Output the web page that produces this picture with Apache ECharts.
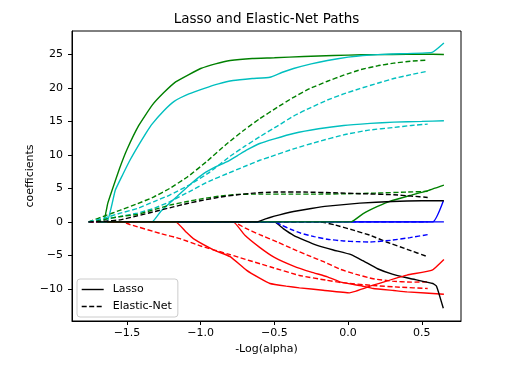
<!DOCTYPE html>
<html><head><meta charset="utf-8">
<script src="https://cdn.jsdelivr.net/npm/echarts@6/dist/echarts.min.js"></script>
<style>html,body{margin:0;padding:0;background:#fff}#c{width:519px;height:373px}</style>
</head><body><div id="c"></div>
<script>
const xTicks = [-1.5, -1.0, -0.5, 0.0, 0.5];
const yTicks = [-10, -5, 0, 5, 10, 15, 20, 25];

// Lasso paths [-log10(alpha), coefficient]
const lassoAge = [[-1.70,0],[0.65,0]];
const lassoSex = [[-1.70,0],[-0.78,0],[-0.70,-2.0],[-0.60,-3.8],[-0.50,-5.3],[-0.37,-6.6],[-0.25,-7.5],[-0.14,-8.2],[-0.05,-9.0],[0.08,-9.5],[0.17,-9.95],[0.31,-10.25],[0.40,-10.45],[0.65,-10.8]];
const lassoBmi = [[-1.70,0],[-1.66,0],[-1.63,2.8],[-1.60,4.8],[-1.55,8.0],[-1.50,10.8],[-1.42,14.4],[-1.33,17.4],[-1.25,19.3],[-1.17,20.9],[-1.08,22.0],[-1.00,22.9],[-0.90,23.6],[-0.80,24.1],[-0.65,24.4],[-0.50,24.5],[-0.30,24.7],[-0.10,24.85],[0.10,24.95],[0.30,25.0],[0.50,25.05],[0.65,25.0]];
const lassoBp = [[-1.70,0],[-1.33,0],[-1.27,1.6],[-1.16,3.8],[-1.06,5.8],[-0.98,7.2],[-0.90,8.2],[-0.82,9.0],[-0.75,9.9],[-0.69,10.7],[-0.60,11.7],[-0.50,12.4],[-0.37,13.2],[-0.20,13.9],[-0.03,14.4],[0.15,14.7],[0.31,14.9],[0.50,15.0],[0.65,15.1]];
const lassoS1 = [[-1.70,0],[-0.50,0],[-0.44,-1.0],[-0.37,-2.0],[-0.29,-2.8],[-0.21,-3.5],[-0.10,-4.2],[0.02,-4.9],[0.10,-5.8],[0.20,-7.0],[0.30,-7.8],[0.42,-8.45],[0.575,-9.2],[0.60,-9.6],[0.646,-12.9]];
const lassoS2 = [[-1.70,0],[0.575,0],[0.646,3.1]];
const lassoS3 = [[-1.70,0],[-1.17,0],[-1.10,-1.5],[-1.05,-2.5],[-0.91,-4.2],[-0.80,-5.2],[-0.69,-7.2],[-0.60,-8.4],[-0.53,-9.2],[-0.42,-9.6],[-0.33,-9.85],[-0.17,-10.2],[0.01,-10.6],[0.17,-9.45],[0.40,-7.95],[0.57,-7.2],[0.65,-5.6]];
const lassoS4 = [[-1.70,0],[0.02,0],[0.10,1.2],[0.20,2.3],[0.30,3.2],[0.42,3.95],[0.53,4.6],[0.65,5.5]];
const lassoS5 = [[-1.70,0],[-1.636,0],[-1.60,2.8],[-1.58,4.7],[-1.53,7.0],[-1.48,9.2],[-1.42,11.5],[-1.37,13.3],[-1.33,14.6],[-1.25,16.6],[-1.18,18.0],[-1.08,19.1],[-0.98,19.9],[-0.88,20.6],[-0.78,21.1],[-0.65,21.4],[-0.53,21.6],[-0.45,22.3],[-0.37,22.9],[-0.25,23.6],[-0.14,24.1],[0.0,24.6],[0.10,24.85],[0.30,25.07],[0.57,25.3],[0.65,26.7]];
const lassoS6 = [[-1.70,0],[-0.62,0],[-0.56,0.45],[-0.50,0.85],[-0.43,1.25],[-0.37,1.55],[-0.25,2.0],[-0.14,2.35],[0.08,2.8],[0.30,3.05],[0.50,3.15],[0.65,3.15]];

// Elastic-Net paths
const enetAge = [[-1.76,0],[0.54,0]];
const enetSex = [[-1.76,0],[-0.78,0],[-0.70,-0.9],[-0.60,-1.9],[-0.48,-3.0],[-0.39,-3.9],[-0.25,-5.2],[-0.17,-5.9],[-0.05,-7.1],[0.05,-7.8],[0.17,-8.5],[0.30,-8.85],[0.43,-9.0],[0.54,-8.95]];
const enetBmi = [[-1.76,0],[-1.65,0.9],[-1.545,1.75],[-1.43,2.7],[-1.32,3.7],[-1.21,5.0],[-1.09,6.7],[-0.96,9.0],[-0.82,11.7],[-0.70,13.8],[-0.60,15.4],[-0.48,17.1],[-0.37,18.6],[-0.26,19.9],[-0.14,21.0],[-0.03,21.9],[0.08,22.7],[0.20,23.3],[0.31,23.7],[0.43,24.0],[0.54,24.15]];
const enetBp = [[-1.76,0],[-1.65,0.4],[-1.545,0.8],[-1.43,1.3],[-1.32,2.0],[-1.21,3.0],[-1.07,4.6],[-0.94,6.1],[-0.82,7.2],[-0.71,8.2],[-0.60,9.2],[-0.53,9.7],[-0.37,10.9],[-0.20,12.0],[-0.03,13.0],[0.14,13.7],[0.31,14.1],[0.43,14.4],[0.54,14.6]];
const enetS1 = [[-1.76,0],[-0.19,0],[-0.09,-0.45],[0.03,-1.2],[0.15,-2.0],[0.26,-3.0],[0.40,-4.1],[0.54,-5.2]];
const enetS2 = [[-1.76,0],[-0.50,0],[-0.45,-0.5],[-0.39,-1.1],[-0.32,-1.7],[-0.23,-2.2],[-0.14,-2.6],[-0.03,-2.85],[0.06,-2.95],[0.15,-3.0],[0.29,-2.75],[0.42,-2.35],[0.54,-1.9]];
const enetS3 = [[-1.76,0],[-1.53,0],[-1.48,-0.4],[-1.27,-1.75],[-1.14,-2.5],[-1.00,-3.6],[-0.80,-4.9],[-0.53,-6.7],[-0.33,-8.0],[-0.15,-8.7],[-0.05,-9.05],[0.17,-9.5],[0.35,-9.75],[0.54,-9.95]];
const enetS4 = [[-1.76,0],[-1.65,0.4],[-1.545,0.8],[-1.43,1.1],[-1.32,1.8],[-1.21,2.5],[-1.10,3.0],[-0.98,3.5],[-0.87,3.85],[-0.75,4.1],[-0.60,4.15],[-0.40,4.15],[-0.20,4.15],[0.0,4.2],[0.20,4.3],[0.40,4.45],[0.54,4.55]];
const enetS5 = [[-1.76,0],[-1.65,0.6],[-1.545,1.3],[-1.43,2.0],[-1.32,3.0],[-1.21,4.0],[-1.07,5.6],[-0.94,7.4],[-0.80,9.8],[-0.70,11.3],[-0.60,12.7],[-0.48,14.3],[-0.37,15.8],[-0.26,17.0],[-0.14,18.2],[-0.03,19.1],[0.08,19.9],[0.20,20.7],[0.31,21.4],[0.43,22.0],[0.54,22.5]];
const enetS6 = [[-1.76,0],[-1.65,0.1],[-1.545,0.3],[-1.43,0.9],[-1.32,1.5],[-1.21,2.1],[-1.09,2.75],[-0.98,3.25],[-0.87,3.7],[-0.75,4.05],[-0.64,4.3],[-0.50,4.45],[-0.30,4.45],[-0.10,4.35],[0.10,4.2],[0.31,4.05],[0.43,3.85],[0.54,3.65]];

const COL = {b:'#0000ff', r:'#ff0000', g:'#008000', c:'#00bfbf', k:'#000000'};
const DASH = [5, 2.5];
const LW = 1.4;
const paths = [
  [lassoAge,'b',false],[enetAge,'b',true],
  [lassoSex,'r',false],[enetSex,'r',true],
  [lassoBmi,'g',false],[enetBmi,'g',true],
  [lassoBp,'c',false],[enetBp,'c',true],
  [lassoS1,'k',false],[enetS1,'k',true],
  [lassoS2,'b',false],[enetS2,'b',true],
  [lassoS3,'r',false],[enetS3,'r',true],
  [lassoS4,'g',false],[enetS4,'g',true],
  [lassoS5,'c',false],[enetS5,'c',true],
  [lassoS6,'k',false],[enetS6,'k',true]
];

const series = paths.map((p, i) => ({
  type: 'line', name: 'path' + i, data: p[0], symbol: 'none', showSymbol: false,
  silent: true, smooth: 0.12, clip: true,
  itemStyle: {color: COL[p[1]]},
  lineStyle: {color: COL[p[1]], width: LW, type: p[2] ? DASH : 'solid'}
}));
series.push({type:'line', name:'Lasso', data:[], symbol:'none', itemStyle:{color:'#000', opacity:0}, lineStyle:{color:'#000', width:LW, type:'solid', opacity:1}});
series.push({type:'line', name:'Elastic-Net', data:[], symbol:'none', itemStyle:{color:'#000', opacity:0}, lineStyle:{color:'#000', width:LW, type:DASH, opacity:1}});

const FONT = 'DejaVu Sans';
const minus = s => String(s).replace('-', '\u2212');

const chart = echarts.init(document.getElementById('c'), null, {renderer: 'canvas'});
chart.setOption({
  animation: false,
  backgroundColor: '#fff',
  textStyle: {fontFamily: FONT},
  title: {
    text: 'Lasso and Elastic-Net Paths', left: 266.5, top: 12, textAlign: 'center', padding: 0,
    textStyle: {fontFamily: FONT, fontSize: 13.5, fontWeight: 'normal', color: '#000'}
  },
  legend: {
    data: ['Lasso', 'Elastic-Net'], orient: 'vertical', left: 77, top: 279,
    itemWidth: 22, itemHeight: 12, itemGap: 4, padding: [4, 6, 4, 4],
    itemStyle: {opacity: 0},
    lineStyle: {width: LW},
    borderColor: '#cccccc', borderWidth: 1, borderRadius: 3, backgroundColor: 'rgba(255,255,255,0.8)',
    textStyle: {fontFamily: FONT, fontSize: 11, color: '#000', padding: [0, 0, 0, 4], lineHeight: 13},
    selectedMode: false
  },
  grid: {left: 72, right: 58, top: 31, bottom: 52, show: true, borderColor: '#000', borderWidth: 1, backgroundColor: 'transparent'},
  xAxis: {
    type: 'value', min: -1.873, max: 0.766,
    name: '-Log(alpha)', nameLocation: 'middle', nameGap: 21,
    nameTextStyle: {fontFamily: FONT, fontSize: 11, color: '#000'},
    axisLine: {show: true, onZero: false, lineStyle: {color: '#000', width: 1}},
    axisTick: {show: true, inside: false, length: 4, customValues: xTicks, lineStyle: {color: '#000'}},
    axisLabel: {customValues: xTicks, margin: 7, fontFamily: FONT, fontSize: 11, color: '#000', formatter: v => minus(v.toFixed(1))},
    splitLine: {show: false}
  },
  yAxis: {
    type: 'value', min: -14.8, max: 28.5,
    name: 'coefficients', nameLocation: 'middle', nameGap: 36, nameRotate: 90, nameMoveOverlap: false,
    nameTextStyle: {fontFamily: FONT, fontSize: 11, color: '#000'},
    axisLine: {show: true, onZero: false, lineStyle: {color: '#000', width: 1}},
    axisTick: {show: true, inside: false, length: 4, customValues: yTicks, lineStyle: {color: '#000'}},
    axisLabel: {customValues: yTicks, margin: 9, fontFamily: FONT, fontSize: 11, color: '#000', formatter: v => minus(Math.round(v))},
    splitLine: {show: false}
  },
  series: series
});
</script></body></html>
